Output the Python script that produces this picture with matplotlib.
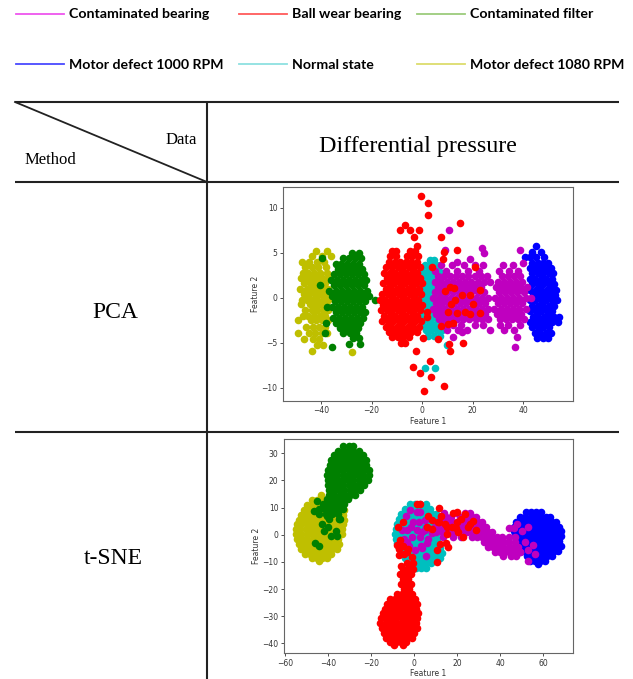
import numpy as np
import matplotlib
matplotlib.use("Agg")
import matplotlib.pyplot as plt
from matplotlib.lines import Line2D

# classes in legend order, with the colours used for the scatter marks
class_names = ["Contaminated bearing", "Ball wear bearing", "Contaminated filter",
               "Motor defect 1000 RPM", "Normal state", "Motor defect 1080 RPM"]
class_colors = ["m", "r", "g", "b", "c", "y"]
legend_colors = ["#ee55ee", "#ff5a5a", "#9ccc7c", "#4a4aff", "#8de0e0", "#dcdc6c"]

# classes are drawn in this order (later ones sit on top)
draw_order = ["Motor defect 1080 RPM", "Contaminated filter", "Motor defect 1000 RPM",
              "Normal state", "Contaminated bearing", "Ball wear bearing"]

pca_xticks = [-40, -20, 0, 20, 40]
pca_yticks = [-10, -5, 0, 5, 10]
tsne_xticks = [-60, -40, -20, 0, 20, 40, 60]
tsne_yticks = [-40, -30, -20, -10, 0, 10, 20, 30]

# ---------------- PCA projection: rows of (feature 2, [feature 1 ...]) plus loose points
pca_yellow_rows = [
    (5.2, [-42.1, -37.8]),
    (4.6, [-43.5, -39.6, -36.0]),
    (4.0, [-47.6, -44.8, -41.5, -39.0]),
    (3.4, [-46.3, -43.6, -41.0, -38.2]),
    (2.8, [-47.0, -45.0, -42.6, -40.2, -37.5]),
    (2.2, [-48.0, -45.8, -43.8, -41.7, -39.5, -37.4]),
    (1.6, [-46.6, -44.5, -42.6, -40.4, -38.3]),
    (1.0, [-48.4, -45.7, -43.6, -41.5, -39.4, -37.2]),
    (0.4, [-46.8, -44.6, -42.5, -40.4, -38.3]),
    (-0.2, [-47.5, -45.5, -43.4, -41.4, -39.3, -37.4]),
    (-0.7, [-48.1, -44.3, -42.3, -40.3, -38.2]),
    (-1.4, [-46.4, -43.6, -41.4, -39.4, -37.3]),
    (-2.0, [-47.2, -45.0, -42.6, -40.4, -38.4]),
    (-2.5, [-49.1, -44.0, -41.8, -39.6, -37.4]),
    (-3.2, [-46.0, -43.2, -40.8, -38.6]),
    (-3.9, [-49.3, -44.6, -42.2, -39.8, -37.7]),
    (-4.6, [-46.7, -43.0, -40.8]),
    (-5.3, [-41.6, -39.2]),
    (-5.9, [-43.5]),
]
pca_yellow_extra = [(-27.7, -6.0)]

pca_green_rows = [
    (5.0, [-27.9, -24.9]),
    (4.4, [-39.6, -31.2, -29.0, -26.5, -24.0]),
    (3.8, [-34.0, -32.0, -29.6, -27.3, -25.0]),
    (3.2, [-33.4, -31.0, -28.6, -26.2, -23.6]),
    (2.6, [-35.0, -32.6, -30.2, -27.8, -25.4, -23.0]),
    (2.0, [-36.2, -33.8, -31.4, -29.0, -26.6, -24.2, -22.0]),
    (1.4, [-40.4, -35.0, -32.6, -30.2, -27.8, -25.4, -23.0]),
    (0.8, [-37.0, -34.0, -31.6, -29.2, -26.8, -24.4, -21.9]),
    (0.2, [-35.8, -33.0, -30.6, -28.2, -25.8, -23.4, -21.0]),
    (-0.4, [-34.4, -32.0, -29.6, -27.2, -24.8, -22.4]),
    (-1.0, [-37.8, -35.6, -33.2, -30.8, -28.4, -26.0, -23.6]),
    (-1.6, [-34.2, -31.8, -29.4, -27.0, -24.6, -22.4]),
    (-2.2, [-35.2, -33.0, -30.6, -28.2, -25.8, -23.4]),
    (-2.8, [-38.2, -33.9, -31.6, -29.2, -26.8, -24.4]),
    (-3.4, [-32.4, -30.0, -27.6, -25.2]),
    (-3.9, [-38.4, -31.2, -28.6, -26.0]),
    (-4.5, [-27.3, -24.8]),
    (-5.1, [-29.0, -24.4]),
]
pca_green_extra = [(-18.7, -0.3), (-35.5, -5.5)]

pca_red_rows = [
    (5.2, [-12.0, -10.2, -4.8, -2.6]),
    (4.6, [-12.6, -10.4, -6.0, -3.8, -1.5]),
    (4.0, [-13.0, -10.8, -8.6, -6.4, -4.2, -2.0]),
    (3.4, [-14.2, -11.8, -9.6, -7.4, -5.2, -3.0, -0.8]),
    (2.8, [-15.0, -12.8, -10.6, -8.4, -6.2, -4.0, -1.8]),
    (2.2, [-14.0, -11.8, -9.6, -7.4, -5.2, -3.0, -0.8]),
    (1.6, [-15.6, -13.2, -11.0, -8.8, -6.6, -4.4, -2.2, 0.0]),
    (1.0, [-14.4, -12.2, -10.0, -7.8, -5.6, -3.4, -1.2]),
    (0.4, [-16.0, -13.6, -11.4, -9.2, -7.0, -4.8, -2.6, -0.4]),
    (-0.2, [-16.6, -14.6, -12.4, -10.2, -8.0, -5.8, -3.6, -1.4]),
    (-0.8, [-15.4, -13.2, -11.0, -8.8, -6.6, -4.4, -2.2, 0.0]),
    (-1.4, [-16.2, -14.0, -11.8, -9.6, -7.4, -5.2, -3.0, -0.8]),
    (-2.0, [-15.0, -12.8, -10.6, -8.4, -6.2, -4.0, -1.8]),
    (-2.6, [-15.8, -13.6, -11.4, -9.2, -7.0, -4.8, -2.6, -0.4]),
    (-3.2, [-14.4, -12.2, -10.0, -7.8, -5.6, -3.4, -1.2]),
    (-3.8, [-13.0, -10.8, -8.6, -6.4, -4.2, -2.0]),
    (-4.4, [-11.8, -9.6, -7.7, -5.0]),
    (-5.0, [-8.5, -6.6]),
]
pca_red_extra = [
    (-0.2, 11.3), (2.2, 10.5), (2.5, 9.2), (-8.8, 7.5), (-6.8, 8.1), (-4.8, 7.5),
    (-3.1, 6.7), (-1.1, 7.5), (-1.8, 5.7), (7.4, 6.7), (15.0, 8.3), (8.8, 5.1),
    (13.7, 5.3), (8.5, 4.3), (3.8, 3.4), (21.0, 3.4), (-2.5, -5.9), (-3.5, -7.7),
    (-0.9, -8.4), (3.2, -7.0), (3.6, -8.8), (0.8, -10.4), (8.6, -9.8), (0.2, -4.5),
    (6.5, -4.6), (11.1, -5.9), (16.3, -5.0), (10.5, -5.1), (9.1, 0.8), (11.1, 1.2),
    (12.8, 1.1), (16.0, 0.3), (19.0, 0.3), (23.0, 0.9), (13.1, -0.3), (11.5, -0.7),
    (20.3, -0.7), (17.0, -1.6), (19.0, -1.8), (13.7, -1.7), (10.2, -1.6), (1.9, -1.6),
    (1.9, -2.1), (7.4, -3.1), (12.4, -2.8), (10.4, -2.9), (22.8, -1.7),
]

pca_cyan_rows = [
    (4.2, [3.0, 4.8]),
    (3.6, [1.0, 3.2, 5.4, 7.0]),
    (3.0, [0.0, 2.2, 4.4, 6.6]),
    (2.4, [-0.6, 1.4, 3.6, 5.8, 8.0]),
    (1.8, [0.4, 2.6, 4.8, 7.0]),
    (1.2, [-0.8, 1.4, 3.6, 5.8, 8.0]),
    (0.6, [0.2, 2.4, 4.6, 6.8]),
    (0.0, [-0.6, 1.4, 3.6, 5.8, 8.0]),
    (-0.6, [0.4, 2.6, 4.8, 7.0]),
    (-1.2, [-0.8, 1.4, 3.6, 5.8, 8.0]),
    (-1.8, [0.2, 2.4, 4.6, 6.8, 9.0]),
    (-2.4, [-0.6, 1.4, 3.6, 5.8, 8.0]),
    (-3.0, [0.4, 2.6, 4.8, 7.0, 9.2]),
    (-3.6, [1.4, 3.6, 5.8, 8.0]),
    (-4.2, [2.4, 4.6, 7.0]),
]
pca_cyan_extra = [(1.1, -7.8), (5.3, -7.8), (9.9, -5.2)]

pca_magenta_rows = [
    (3.6, [7.5, 12.0, 16.5, 21.0, 24.3, 32.2, 36.2]),
    (3.0, [5.2, 9.6, 14.0, 18.4, 22.4, 30.4, 34.4, 38.0]),
    (2.4, [6.4, 8.8, 11.2, 13.6, 16.0, 18.4, 20.8, 23.2, 25.6, 31.5, 33.9, 36.3, 38.7]),
    (1.8, [5.2, 7.6, 10.0, 12.4, 14.8, 17.2, 19.6, 22.0, 24.4, 26.8, 30.2, 32.6, 35.0,
           37.4, 39.8]),
    (1.2, [6.4, 8.8, 11.2, 13.6, 16.0, 18.4, 20.8, 23.2, 29.4, 31.8, 34.2, 36.6, 39.0,
           41.4]),
    (0.6, [5.2, 7.6, 10.0, 12.4, 14.8, 17.2, 19.6, 22.0, 24.4, 30.6, 33.0, 35.4, 37.8,
           40.2]),
    (0.0, [4.4, 6.8, 9.2, 11.6, 14.0, 16.4, 18.8, 21.2, 23.6, 26.0, 29.0, 31.4, 33.8,
           36.2, 38.6, 41.0, 43.2]),
    (-0.6, [5.6, 8.0, 10.4, 12.8, 15.2, 17.6, 20.0, 22.4, 24.8, 30.2, 32.6, 35.0, 37.4,
            39.8]),
    (-1.2, [4.4, 6.8, 9.2, 11.6, 14.0, 16.4, 18.8, 21.2, 23.6, 26.0, 28.4, 31.4, 33.8,
            36.2, 38.6, 41.0]),
    (-1.8, [5.6, 8.0, 10.4, 12.8, 15.2, 17.6, 20.0, 22.4, 24.8, 29.6, 32.0, 34.4, 36.8,
            39.2]),
    (-2.4, [6.8, 9.2, 11.6, 14.0, 16.4, 18.8, 21.2, 23.6, 26.0, 30.8, 33.2, 35.6, 38.0,
            40.4]),
    (-3.0, [8.0, 12.4, 15.6, 21.0, 24.3, 30.9, 34.0, 38.8]),
    (-3.6, [10.0, 14.4, 18.0, 27.0, 32.4, 36.4]),
    (-4.4, [12.4, 37.5]),
    (-5.5, [36.8]),
]
pca_magenta_extra = [(10.7, 7.5), (9.1, 5.3), (23.9, 5.5), (24.7, 5.0), (38.8, 5.3),
                     (40.1, 3.9), (19.0, 4.3), (13.7, 4.0), (15.7, -3.8)]

pca_blue_rows = [
    (5.7, [45.0]),
    (5.1, [43.5, 47.2]),
    (4.5, [40.7, 42.6, 45.0, 48.3]),
    (3.9, [43.6, 45.8, 48.0, 50.0]),
    (3.3, [42.8, 45.0, 47.2, 49.4, 51.2]),
    (2.7, [43.6, 45.8, 48.0, 50.2, 52.0]),
    (2.1, [42.6, 44.8, 47.0, 49.2, 51.4]),
    (1.5, [43.6, 45.8, 48.0, 50.2, 52.4]),
    (0.9, [42.8, 45.0, 47.2, 49.4, 51.6, 53.2]),
    (0.3, [43.8, 46.0, 48.2, 50.4, 52.6]),
    (-0.3, [42.6, 44.8, 47.0, 49.2, 51.4, 53.4]),
    (-0.9, [43.6, 45.8, 48.0, 50.2, 52.4]),
    (-1.5, [42.8, 45.0, 47.2, 49.4, 51.6]),
    (-2.1, [43.8, 46.0, 48.2, 50.4, 52.4, 54.4]),
    (-2.7, [42.6, 44.8, 47.0, 49.2, 51.4, 54.0]),
    (-3.3, [43.6, 45.8, 48.0, 50.2]),
    (-3.9, [44.6, 46.8, 49.0, 51.0]),
    (-4.5, [45.6, 47.8, 49.8]),
]

# ---------------- t-SNE embedding
tsne_yellow_rows = [
    (14.6, [-43.2]),
    (12.8, [-47.6, -45.2, -42.8, -40.4]),
    (11.0, [-50.0, -47.6, -45.2, -42.8, -40.4, -38.0, -35.6]),
    (9.2, [-51.2, -48.8, -46.4, -44.0, -41.6, -39.2, -36.8, -34.4, -32.4]),
    (7.4, [-52.4, -50.0, -47.6, -45.2, -42.8, -40.4, -38.0, -35.6, -33.2]),
    (5.6, [-53.6, -51.2, -48.8, -46.4, -44.0, -41.6, -39.2, -36.8, -34.4, -32.4]),
    (3.8, [-54.6, -52.4, -50.0, -47.6, -45.2, -42.8, -40.4, -38.0, -35.6, -33.2]),
    (2.0, [-55.0, -52.8, -50.4, -48.0, -45.6, -43.2, -40.8, -38.4, -36.0, -33.6]),
    (0.2, [-54.8, -52.4, -50.0, -47.6, -45.2, -42.8, -40.4, -38.0, -35.6, -33.6]),
    (-1.6, [-54.4, -52.0, -49.6, -47.2, -44.8, -42.4, -40.0, -37.6, -35.2]),
    (-3.4, [-53.6, -51.2, -48.8, -46.4, -44.0, -41.6, -39.2, -36.8, -34.8]),
    (-5.2, [-52.4, -50.0, -47.6, -45.2, -42.8, -40.4, -38.0, -36.0]),
    (-7.0, [-50.8, -48.4, -46.0, -43.6, -41.2, -38.8]),
    (-8.6, [-47.6, -45.2, -42.8, -40.4]),
    (-9.6, [-44.0]),
]

tsne_green_rows = [
    (32.8, [-32.8, -30.4, -28.2]),
    (31.0, [-35.4, -33.0, -30.6, -28.2, -25.8]),
    (29.2, [-37.0, -34.6, -32.2, -29.8, -27.4, -25.0, -23.6]),
    (27.4, [-38.4, -36.0, -33.6, -31.2, -28.8, -26.4, -24.0, -22.4]),
    (25.6, [-39.2, -36.8, -34.4, -32.0, -29.6, -27.2, -24.8, -22.4]),
    (23.8, [-40.0, -37.6, -35.2, -32.8, -30.4, -28.0, -25.6, -23.2, -21.0]),
    (22.0, [-40.4, -38.0, -35.6, -33.2, -30.8, -28.4, -26.0, -23.6, -21.0]),
    (20.2, [-40.2, -37.8, -35.4, -33.0, -30.6, -28.2, -25.8, -23.4, -21.6]),
    (18.4, [-40.0, -37.6, -35.2, -32.8, -30.4, -28.0, -25.6, -23.2]),
    (16.6, [-39.6, -37.2, -34.8, -32.4, -30.0, -27.6, -25.2]),
    (14.8, [-39.4, -37.0, -34.6, -32.2, -29.8, -27.4]),
    (13.0, [-40.4, -38.0, -35.6, -33.2, -30.8]),
    (11.2, [-42.2, -39.6, -37.2, -34.8, -32.4]),
    (9.4, [-44.0, -41.6, -39.2, -36.8, -34.4, -32.9]),
    (7.6, [-44.2, -40.8, -38.0, -35.4]),
    (5.8, [-39.5, -34.9]),
]
tsne_green_extra = [(-45.0, 12.5), (-46.5, 8.9), (-42.6, 4.0), (-41.9, 1.5), (-38.8, -0.4),
                    (-35.7, -0.4), (-36.4, 1.5), (-46.2, -3.0), (-44.2, -4.0), (-40.0, 2.7),
                    (-34.4, 5.7), (-42.5, 9.7), (-36.7, 9.7), (-40.3, 6.9)]

tsne_blue_rows = [
    (8.4, [52.0, 54.4, 56.8, 59.2]),
    (6.6, [49.4, 51.8, 54.2, 56.6, 59.0, 61.4, 63.2]),
    (4.8, [47.6, 50.0, 52.4, 54.8, 57.2, 59.6, 62.0, 64.4, 66.0]),
    (3.0, [46.6, 49.0, 51.4, 53.8, 56.2, 58.6, 61.0, 63.4, 65.8, 67.6]),
    (1.2, [46.4, 48.8, 51.2, 53.6, 56.0, 58.4, 60.8, 63.2, 65.6, 68.2]),
    (-0.6, [47.2, 49.6, 52.0, 54.4, 56.8, 59.2, 61.6, 64.0, 66.4, 68.6]),
    (-2.4, [48.4, 50.8, 53.2, 55.6, 58.0, 60.4, 62.8, 65.2, 67.6]),
    (-4.2, [49.6, 52.0, 54.4, 56.8, 59.2, 61.6, 64.0, 66.4, 68.4]),
    (-6.0, [50.8, 53.2, 55.6, 58.0, 60.4, 62.8, 65.2, 67.0]),
    (-7.8, [52.4, 54.8, 57.2, 59.6, 62.0, 64.4]),
    (-9.6, [54.0, 56.4, 58.8, 61.0]),
    (-10.8, [57.6]),
]

tsne_cyan_rows = [
    (11.2, [-2.0, 0.4, 3.0, 5.4]),
    (9.4, [-4.4, -2.0, 0.4, 2.8, 5.2, 7.6]),
    (7.6, [-6.0, -3.6, -1.2, 1.2, 3.6, 6.0, 8.4, 10.4]),
    (5.8, [-7.2, -4.8, -2.4, 0.0, 2.4, 4.8, 7.2, 9.6, 12.0]),
    (4.0, [-8.0, -5.6, -3.2, -0.8, 1.6, 4.0, 6.4, 8.8, 11.2]),
    (2.2, [-8.6, -6.2, -3.8, -1.4, 1.0, 3.4, 5.8, 8.2, 10.6]),
    (0.4, [-8.8, -6.4, -4.0, -1.6, 0.8, 3.2, 5.6, 8.0, 10.4]),
    (-1.4, [-8.4, -6.0, -3.6, -1.2, 1.2, 3.6, 6.0, 8.4, 10.8]),
    (-3.2, [-8.0, -5.6, -3.2, -0.8, 1.6, 4.0, 6.4, 8.8, 11.2]),
    (-5.0, [-7.2, -4.8, -2.4, 0.0, 2.4, 4.8, 7.2, 9.6, 12.0]),
    (-6.8, [-6.0, -3.6, -1.2, 1.2, 3.6, 6.0, 8.4, 10.8, 13.2]),
    (-8.6, [-4.4, -2.0, 0.4, 2.8, 5.2, 7.6, 10.0, 12.0]),
    (-10.4, [-1.6, 0.8, 3.2, 5.6, 8.0]),
    (-12.2, [1.0, 3.4, 5.8]),
]

tsne_magenta_rows = [
    (8.0, [14.0, 20.0, 23.6, 26.0]),
    (6.4, [12.4, 14.8, 17.2, 21.6, 24.4, 26.8, 29.0]),
    (4.6, [10.6, 13.0, 15.4, 17.8, 20.2, 22.6, 25.0, 27.4, 29.8, 31.6]),
    (2.8, [9.8, 12.2, 14.6, 17.0, 19.4, 21.8, 24.2, 26.6, 29.0, 31.4, 33.4]),
    (1.0, [10.4, 12.8, 15.2, 17.6, 20.0, 22.4, 24.8, 27.2, 29.6, 32.0, 34.4, 36.4]),
    (-0.8, [13.6, 18.0, 22.0, 26.8, 29.2, 31.6, 34.0, 36.4, 38.8, 41.0, 44.0, 47.0]),
    (-2.6, [32.4, 34.8, 37.2, 39.6, 42.0, 44.4, 46.8]),
    (-4.4, [34.4, 36.8, 39.2, 41.6, 44.0, 46.4, 48.6]),
    (-6.2, [37.6, 40.0, 42.4, 44.8, 47.2, 49.3]),
    (-7.8, [41.2, 45.0, 47.6]),
]
tsne_magenta_extra = [
    (-1.9, 9.1), (2.8, 8.5), (5.1, 5.4), (-3.4, 1.7), (-1.0, -0.7), (1.2, 1.7), (-0.3, 4.8),
    (2.8, -0.7), (3.6, -5.0), (5.9, -3.2), (8.2, 0.5), (-3.4, -2.6), (-5.7, 1.7), (0.5, -5.6),
    (5.1, 1.7), (-3.9, 6.8), (-1.6, 2.7), (2.3, 4.6), (5.4, 2.7), (3.1, -4.0), (5.4, -7.7),
    (-2.3, -4.0), (1.2, 8.2), (3.9, 0.9), (6.5, -1.6), (-4.7, -1.6), (44.0, 2.6),
    (46.6, 2.6), (47.8, 4.0), (50.1, 1.5), (51.6, -2.8), (55.5, -3.8), (56.3, -7.1),
    (53.2, -9.6), (49.3, -6.5), (52.8, 2.8), (53.0, -5.5),
]

tsne_red_rows = [
    (-10.4, [-3.4, -0.3]),
    (-11.4, [-6.0, -1.9]),
    (-12.8, [-5.0, -2.6, -0.4]),
    (-14.6, [-6.4, -4.0, -1.6]),
    (-16.4, [-5.0, -2.6]),
    (-18.2, [-6.0, -3.6, -1.4]),
    (-20.0, [-4.6, -2.2]),
    (-21.8, [-8.0, -5.6, -3.2, -0.8]),
    (-23.6, [-11.2, -8.8, -6.4, -4.0, -1.6, 0.6]),
    (-25.4, [-12.6, -10.2, -7.8, -5.4, -3.0, -0.6, 1.6]),
    (-27.2, [-13.6, -11.2, -8.8, -6.4, -4.0, -1.6, 0.8]),
    (-29.0, [-14.6, -12.2, -9.8, -7.4, -5.0, -2.6, -0.2, 1.8]),
    (-30.8, [-15.4, -13.0, -10.6, -8.2, -5.8, -3.4, -1.0, 1.2]),
    (-32.6, [-15.6, -13.2, -10.8, -8.4, -6.0, -3.6, -1.2, 1.0]),
    (-34.4, [-15.0, -12.6, -10.2, -7.8, -5.4, -3.0, -0.6, 1.2]),
    (-36.2, [-14.0, -11.6, -9.2, -6.8, -4.4, -2.0, 0.2]),
    (-38.0, [-12.8, -10.4, -8.0, -5.6, -3.2, -1.0]),
    (-39.6, [-11.0, -8.6, -6.2, -3.8]),
    (-40.6, [-9.4, -5.0]),
]
tsne_red_extra = [
    (-5.0, 4.8), (-7.3, 2.7), (-6.5, -1.9), (-5.0, -4.2), (-3.4, -6.2), (-6.8, -7.5),
    (-8.1, -3.8), (-7.0, -5.3), (-4.7, -7.1), (-2.8, -5.3), (-0.8, -8.3), (-1.9, -11.8),
    (1.5, 11.3), (2.8, 11.3), (6.7, 7.0), (8.2, 5.4), (5.9, 3.0), (11.8, 9.7), (12.6, 6.9),
    (18.3, 8.1), (19.9, 8.3), (23.7, 7.6), (21.7, 5.7), (26.0, 4.0), (27.6, 5.2),
    (28.8, 1.7), (19.5, 2.3), (15.2, 3.0), (14.4, 4.0), (17.5, 2.7), (20.6, 0.9),
    (25.3, 2.7), (23.0, -1.0), (15.2, 0.3), (12.1, -3.4), (16.0, -4.7), (14.9, -3.2),
    (10.5, -5.6), (10.5, -9.9), (11.8, 4.8), (8.2, 2.1), (19.9, 4.6), (11.3, 4.6),
]


def expand(rows, extra=()):
    xs, ys = [], []
    for y, row in rows:
        xs += row
        ys += [y] * len(row)
    for x, y in extra:
        xs.append(x)
        ys.append(y)
    return np.array(xs), np.array(ys)


pca_points = {
    "Motor defect 1080 RPM": expand(pca_yellow_rows, pca_yellow_extra),
    "Contaminated filter": expand(pca_green_rows, pca_green_extra),
    "Motor defect 1000 RPM": expand(pca_blue_rows),
    "Normal state": expand(pca_cyan_rows, pca_cyan_extra),
    "Contaminated bearing": expand(pca_magenta_rows, pca_magenta_extra),
    "Ball wear bearing": expand(pca_red_rows, pca_red_extra),
}
tsne_points = {
    "Motor defect 1080 RPM": expand(tsne_yellow_rows),
    "Contaminated filter": expand(tsne_green_rows, tsne_green_extra),
    "Motor defect 1000 RPM": expand(tsne_blue_rows),
    "Normal state": expand(tsne_cyan_rows),
    "Contaminated bearing": expand(tsne_magenta_rows, tsne_magenta_extra),
    "Ball wear bearing": expand(tsne_red_rows, tsne_red_extra),
}

W, H = 633, 679
fig = plt.figure(figsize=(W / 100, H / 100), dpi=100)

# table frame drawn in pixel coordinates
bg = fig.add_axes([0, 0, 1, 1])
bg.set_xlim(0, W)
bg.set_ylim(H, 0)
bg.axis("off")
line_kw = dict(color="#222222", lw=1.5, solid_capstyle="butt")
bg.plot([15, 619], [102, 102], **line_kw)
bg.plot([15, 619], [182, 182], **line_kw)
bg.plot([15, 619], [432, 432], **line_kw)
bg.plot([207, 207], [102, H], **line_kw)
bg.plot([15, 207], [102, 182], color="#222222", lw=1.3)

serif = "Liberation Serif"
bg.text(181, 144, "Data", family=serif, size=12, ha="center", va="baseline")
bg.text(50.5, 164, "Method", family=serif, size=12, ha="center", va="baseline")
bg.text(418, 152.3, "Differential pressure", family=serif, size=17.3, ha="center", va="baseline")
bg.text(115, 318.5, "PCA", family=serif, size=17, ha="center", va="baseline")
bg.text(113, 563.5, "t-SNE", family=serif, size=17, ha="center", va="baseline")

# legend: matplotlib fills columns first, so reorder to keep rows as listed
handles = [Line2D([], [], color=c, lw=1.3) for c in legend_colors]
order = [0, 3, 1, 4, 2, 5]
fig.legend([handles[i] for i in order], [class_names[i] for i in order],
           ncol=3, loc="upper left", bbox_to_anchor=(15.5 / W, 1 - 8.5 / H),
           frameon=False, prop={"family": "Lato", "weight": "bold", "size": 10.2},
           handlelength=3.4, handletextpad=0.35, columnspacing=1.1,
           labelspacing=2.7, borderpad=0, borderaxespad=0)


def style_axes(ax):
    for sp in ax.spines.values():
        sp.set_color("#666666")
        sp.set_linewidth(0.8)
    ax.tick_params(labelsize=5.5, length=2.5, width=0.6, pad=1.5,
                   colors="#333333")
    ax.set_xlabel("Feature 1", fontsize=5.5, labelpad=1, color="#333333")
    ax.set_ylabel("Feature 2", fontsize=5.5, labelpad=1, color="#333333")


color_of = dict(zip(class_names, class_colors))
dot_size = 30

ax1 = fig.add_axes([283 / W, 1 - 400.7 / H, 290 / W, 213.7 / H])
for name in draw_order:
    x, y = pca_points[name]
    ax1.scatter(x, y, s=dot_size, c=color_of[name], linewidths=0)
ax1.set_xlim(-55.05, 59.8)
ax1.set_ylim(-11.44, 12.3)
ax1.set_xticks(pca_xticks)
ax1.set_yticks(pca_yticks)
style_axes(ax1)

ax2 = fig.add_axes([284 / W, 1 - 653 / H, 289 / W, 214 / H])
for name in draw_order:
    x, y = tsne_points[name]
    ax2.scatter(x, y, s=dot_size, c=color_of[name], linewidths=0)
ax2.set_xlim(-60.47, 73.95)
ax2.set_ylim(-43.57, 35.27)
ax2.set_xticks(tsne_xticks)
ax2.set_yticks(tsne_yticks)
style_axes(ax2)

fig.savefig("out.png", dpi=100)
